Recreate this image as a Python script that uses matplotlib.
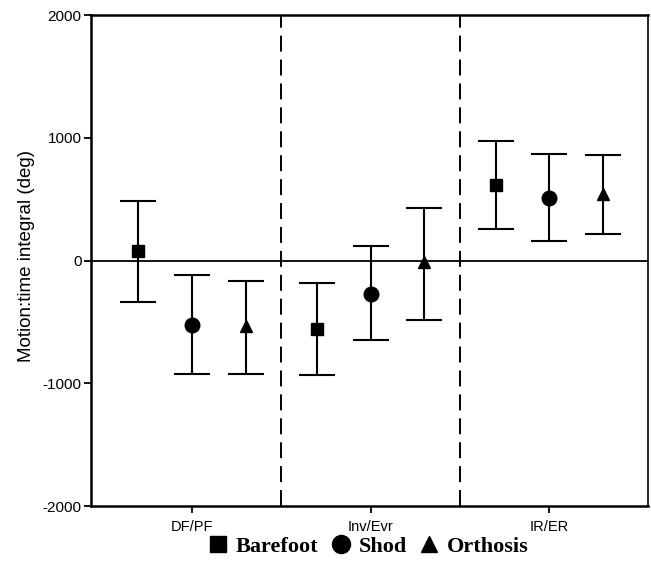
import matplotlib
matplotlib.use("Agg")
import matplotlib.pyplot as plt
from matplotlib.lines import Line2D
import numpy as np

categories = ["DF/PF", "Inv/Evr", "IR/ER"]
conditions = ["Barefoot", "Shod", "Orthosis"]
markers = ["s", "o", "^"]

means = {
    "Barefoot": [75, -560, 615],
    "Shod":     [-525, -270, 510],
    "Orthosis": [-535, -15, 540],
}
upper = {
    "Barefoot": [485, -185, 970],
    "Shod":     [-122, 122, 865],
    "Orthosis": [-165, 430, 860],
}
lower = {
    "Barefoot": [-338, -935, 258],
    "Shod":     [-925, -648, 158],
    "Orthosis": [-925, -483, 220],
}
yticks = [-2000, -1000, 0, 1000, 2000]

fig = plt.figure(figsize=(6.51, 5.77), dpi=100)
ax = fig.add_axes([0.140, 0.123, 0.855, 0.851])

offsets = [-0.30, 0.0, 0.30]
msizes = [8.5, 10.5, 9]
x = np.arange(len(categories))
for cond, mk, off, ms in zip(conditions, markers, offsets, msizes):
    m = np.array(means[cond]); u = np.array(upper[cond]); l = np.array(lower[cond])
    ax.errorbar(x + off, m, yerr=[m - l, u - m], fmt=mk, color="black",
                ms=ms, ecolor="black", elinewidth=1.5, capsize=13, capthick=1.5)

ax.axhline(0, color="black", lw=1.3)
for xv in [0.5, 1.5]:
    ax.axvline(xv, color="black", lw=1.4, ls=(0, (8.2, 4.1)))

ax.set_xlim(-0.565, 2.55)
ax.set_ylim(-2000, 2000)
ax.set_xticks(x)
ax.set_xticklabels(categories, fontfamily="Liberation Sans", fontsize=10.5)
ax.set_yticks(yticks)
ax.set_yticklabels([str(v) for v in yticks], fontfamily="Liberation Sans", fontsize=11)
ax.tick_params(direction="out", length=5, width=1.3, pad=2)
ax.tick_params(axis="x", pad=5)
for s in ["left", "bottom", "top"]:
    ax.spines[s].set_linewidth(1.8)
ax.spines["right"].set_linewidth(1.2)
ax.set_ylabel("Motion:time integral (deg)", fontfamily="Liberation Sans", fontsize=13.5, labelpad=8)
ax.yaxis.set_label_coords(-0.100, 0.51)

handles = [Line2D([], [], marker=mk, color="black", ls="none", ms=s)
           for mk, s in zip(markers, [11, 13, 12])]
fig.legend(handles, conditions, loc="center", bbox_to_anchor=(0.565, 0.053), ncol=3,
           frameon=False, handletextpad=0.3, columnspacing=0.5, handlelength=1.0,
           prop={"family": "Liberation Serif", "weight": "bold", "size": 16})

fig.savefig("out.png", dpi=100)
